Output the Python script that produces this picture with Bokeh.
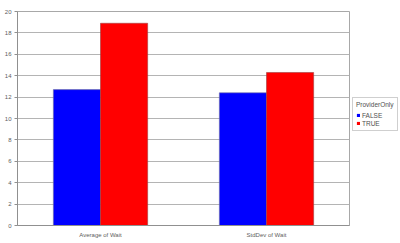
from bokeh.plotting import figure
from bokeh.layouts import row
from bokeh.models import (FactorRange, Range1d, SingleIntervalTicker, Legend, LegendItem,
                          ColumnDataSource)
from bokeh.transform import dodge
from bokeh.embed import file_html
from bokeh.resources import INLINE

categories = ["Average of Wait", "StdDev of Wait"]
false_vals = [12.7, 12.4]
true_vals = [18.9, 14.3]
series_names = ["FALSE", "TRUE"]
legend_title = "ProviderOnly"

src = ColumnDataSource(dict(cat=categories, f=false_vals, t=true_vals))

FONT = "Liberation Sans"
BLUE, RED = "#0000ff", "#ff0000"
p = figure(width=350, height=243,
           x_range=FactorRange(*categories, range_padding=0),
           y_range=Range1d(0, 20), output_backend="svg", toolbar_location=None,
           min_border_left=17, min_border_right=1, min_border_top=11, min_border_bottom=18)

bw = 0.284
p.vbar(x=dodge("cat", -bw / 2, range=p.x_range), top="f", width=bw, source=src,
       fill_color=BLUE, line_color="#6f6f9f", line_width=0.6)
p.vbar(x=dodge("cat", bw / 2, range=p.x_range), top="t", width=bw, source=src,
       fill_color=RED, line_color="#a04040", line_width=0.6)

p.yaxis.ticker = SingleIntervalTicker(interval=2)
p.yaxis.minor_tick_line_color = None
p.yaxis.major_tick_out = 3
p.yaxis.major_tick_in = 0
p.yaxis.major_label_standoff = 2
p.xaxis.major_label_standoff = 0
for ax in (p.xaxis, p.yaxis):
    ax.axis_line_color = "#909090"
    ax.major_label_text_font = FONT
    ax.major_label_text_font_size = "6px"
    ax.major_label_text_color = "#606060"
p.yaxis.major_tick_line_color = "#909090"
p.xaxis.major_tick_line_color = None

p.xgrid.grid_line_color = None
p.ygrid.grid_line_color = "#b4b4b4"
p.ygrid.grid_line_width = 1
p.outline_line_color = "#a8a8a8"
p.background_fill_color = "white"

# legend panel: a small figure whose bars sit far outside its view, carrying the legend
q = figure(width=50, height=243, x_range=FactorRange(*categories),
           y_range=Range1d(-1001, -1000), output_backend="svg", toolbar_location=None,
           x_axis_location=None, y_axis_location=None, min_border=0)
qf = q.vbar(x=dodge("cat", 50, range=q.x_range), top="f", width=0.3, source=src,
            fill_color=BLUE, line_color=None)
qt = q.vbar(x=dodge("cat", 50, range=q.x_range), top="t", width=0.3, source=src,
            fill_color=RED, line_color=None)
q.grid.grid_line_color = None
q.outline_line_color = None

legend = Legend(items=[LegendItem(label=series_names[0], renderers=[qf]),
                       LegendItem(label=series_names[1], renderers=[qt])],
                location=(2, 94), title=legend_title,
                title_text_font=FONT, title_text_font_size="6.5px", title_text_color="#505050",
                title_text_font_style="normal", title_standoff=3,
                label_text_font=FONT, label_text_font_size="6.5px", label_text_color="#505050",
                glyph_width=4, glyph_height=4, label_standoff=2, label_height=8,
                spacing=0, padding=3, margin=0,
                border_line_color="#a0a0a0", background_fill_color="white",
                background_fill_alpha=1)
q.add_layout(legend, "center")

layout = row(p, q)
open("out.html", "w").write(file_html(layout, INLINE))
